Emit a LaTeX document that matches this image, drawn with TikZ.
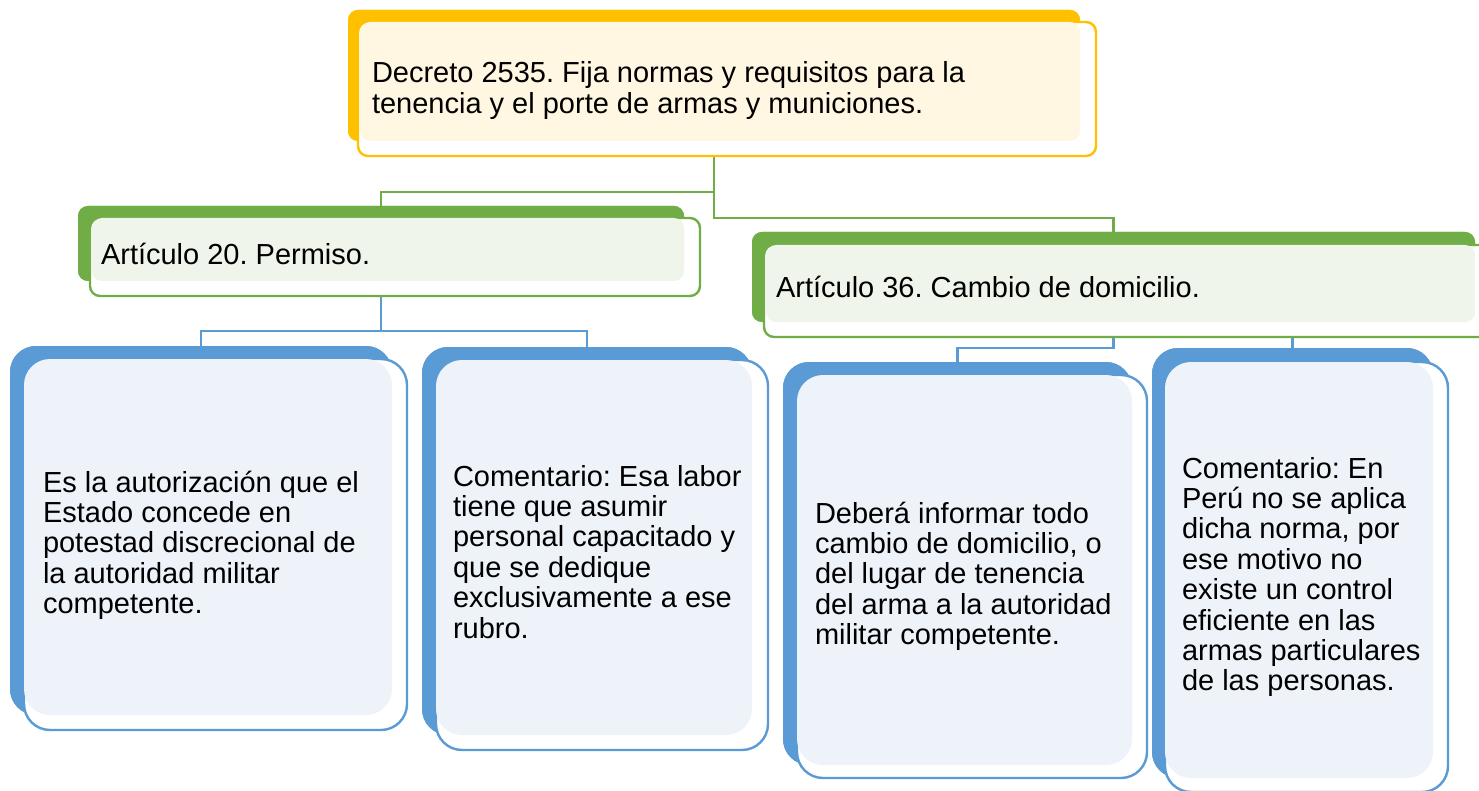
\documentclass[tikz,border=0pt]{standalone}
\usepackage{fontspec}
\setmainfont{Liberation Sans}
\frenchspacing
\definecolor{cY}{HTML}{FFC000}
\definecolor{cYl}{HTML}{FFF7E1}
\definecolor{cG}{HTML}{70AD47}
\definecolor{cGl}{HTML}{EFF5EA}
\definecolor{cB}{HTML}{5B9BD5}
\definecolor{cBl}{HTML}{EEF3FA}
\begin{document}
\begin{tikzpicture}[x=1pt,y=-1pt,
  box/.style={rectangle, anchor=north west, inner sep=0pt, outer sep=0pt},
  backbox/.style={box, draw=none},
  outbox/.style={box, fill=white, line width=2.4pt},
  lightbox/.style={box, draw=none},
  sq/.style={rounded corners=10pt},
  rd/.style={rounded corners=26pt},
  gline/.style={draw=cG, line width=2.4pt},
  bline/.style={draw=cB, line width=2.4pt},
  txt/.style={anchor=north west, inner sep=0pt, outer sep=0pt, align=left,
    font=\fontsize{29}{30.4}\selectfont\frenchspacing, text=black}
]
\useasboundingbox (0,0) rectangle (1479,791);
\fill[white] (0,0) rectangle (1479,791);

% back shapes (named, used by connectors)
\path
 node[backbox, sq, fill=cY, minimum width=732pt, minimum height=131pt] (topB) at (348,10) {}
 node[backbox, sq, fill=cG, minimum width=606pt, minimum height=75pt] (a20B) at (78,206) {}
 node[backbox, sq, fill=cG, minimum width=723pt, minimum height=90pt] (a36B) at (752,232) {}
 node[backbox, rd, fill=cB, minimum width=382pt, minimum height=369pt] (b1B) at (10,346) {}
 node[backbox, rd, fill=cB, minimum width=330pt, minimum height=388pt] (b2B) at (422,347) {}
 node[backbox, rd, fill=cB, minimum width=349pt, minimum height=403pt] (b3B) at (783,362) {}
 node[backbox, rd, fill=cB, minimum width=281pt, minimum height=430pt] (b4B) at (1152,348) {};

% connectors
\draw[gline] (topB.south) |- ([yshift=14pt]a20B.north) -- (a20B.north);
\draw[gline] (topB.south) |- ([yshift=14pt]a36B.north) -- (a36B.north);
\draw[bline] (a20B.south) |- ([yshift=15pt]b1B.north) -- (b1B.north);
\draw[bline] (a20B.south) |- ([yshift=16pt]b2B.north) -- (b2B.north);
\draw[bline] (a36B.south) |- ([yshift=14pt]b3B.north) -- (b3B.north);
\draw[bline] (a36B.south) |- ([yshift=14pt]b4B.north) -- (b4B.north);

% top box
\node[backbox, sq, fill=cY, minimum width=732pt, minimum height=131pt] at (348,10) {};
\node[outbox, sq, draw=cY, minimum width=738pt, minimum height=134pt] (topO) at (358,22) {};
\node[lightbox, sq, fill=cYl, minimum width=720pt, minimum height=119pt] (topL) at (360,22) {};
\node[txt] (topT) at (372,55) {\rule{0pt}{28pt}Decreto 2535. Fija normas y requisitos para la\\tenencia y el porte de armas y municiones.};

% Articulo 20
\node[backbox, sq, fill=cG, minimum width=606pt, minimum height=75pt] at (78,206) {};
\node[outbox, sq, draw=cG, minimum width=610pt, minimum height=78pt] (a20O) at (90,218) {};
\node[lightbox, sq, fill=cGl, minimum width=592pt, minimum height=63pt] (a20L) at (92,218) {};
\node[txt] (a20T) at (101,237) {\rule{0pt}{28pt}Artículo 20. Permiso.};

% Articulo 36
\node[backbox, sq, fill=cG, minimum width=723pt, minimum height=90pt] at (752,232) {};
\node[outbox, sq, draw=cG, minimum width=740pt, minimum height=92pt] (a36O) at (764,245) {};
\node[lightbox, sq, fill=cGl, minimum width=709pt, minimum height=77pt] (a36L) at (766,245) {};
\node[txt] (a36T) at (776,270) {\rule{0pt}{28pt}Artículo 36. Cambio de domicilio.};

% box 1
\node[backbox, rd, fill=cB, minimum width=382pt, minimum height=369pt] at (10,346) {};
\node[outbox, rd, draw=cB, minimum width=383pt, minimum height=371pt] (b1O) at (24,359) {};
\node[lightbox, rd, fill=cBl, minimum width=368pt, minimum height=356pt] (b1L) at (24,359) {};
\node[txt] (b1T) at (43,464) {\rule{0pt}{28pt}Es la autorización que el\\Estado concede en\\potestad discrecional de\\la autoridad militar\\competente.};

% box 2
\node[backbox, rd, fill=cB, minimum width=330pt, minimum height=388pt] at (422,347) {};
\node[outbox, rd, draw=cB, minimum width=332pt, minimum height=390pt] (b2O) at (436,360) {};
\node[lightbox, rd, fill=cBl, minimum width=316pt, minimum height=375pt] (b2L) at (436,360) {};
\node[txt] (b2T) at (453,458) {\rule{0pt}{28pt}Comentario: Esa labor\\tiene que asumir\\personal capacitado y\\que se dedique\\exclusivamente a ese\\rubro.};

% box 3
\node[backbox, rd, fill=cB, minimum width=349pt, minimum height=403pt] at (783,362) {};
\node[outbox, rd, draw=cB, minimum width=350pt, minimum height=403pt] (b3O) at (797,375) {};
\node[lightbox, rd, fill=cBl, minimum width=335pt, minimum height=390pt] (b3L) at (797,375) {};
\node[txt] (b3T) at (815,495) {\rule{0pt}{28pt}Deberá informar todo\\cambio de domicilio, o\\del lugar de tenencia\\del arma a la autoridad\\militar competente.};

% box 4
\node[backbox, rd, fill=cB, minimum width=281pt, minimum height=430pt] at (1152,348) {};
\node[outbox, rd, draw=cB, minimum width=283pt, minimum height=430pt] (b4O) at (1165,362) {};
\node[lightbox, rd, fill=cBl, minimum width=268pt, minimum height=416pt] (b4L) at (1165,362) {};
\node[txt] (b4T) at (1182,450) {\rule{0pt}{28pt}Comentario: En\\Perú no se aplica\\dicha norma, por\\ese motivo no\\existe un control\\eficiente en las\\armas particulares\\de las personas.};
\end{tikzpicture}
\end{document}
